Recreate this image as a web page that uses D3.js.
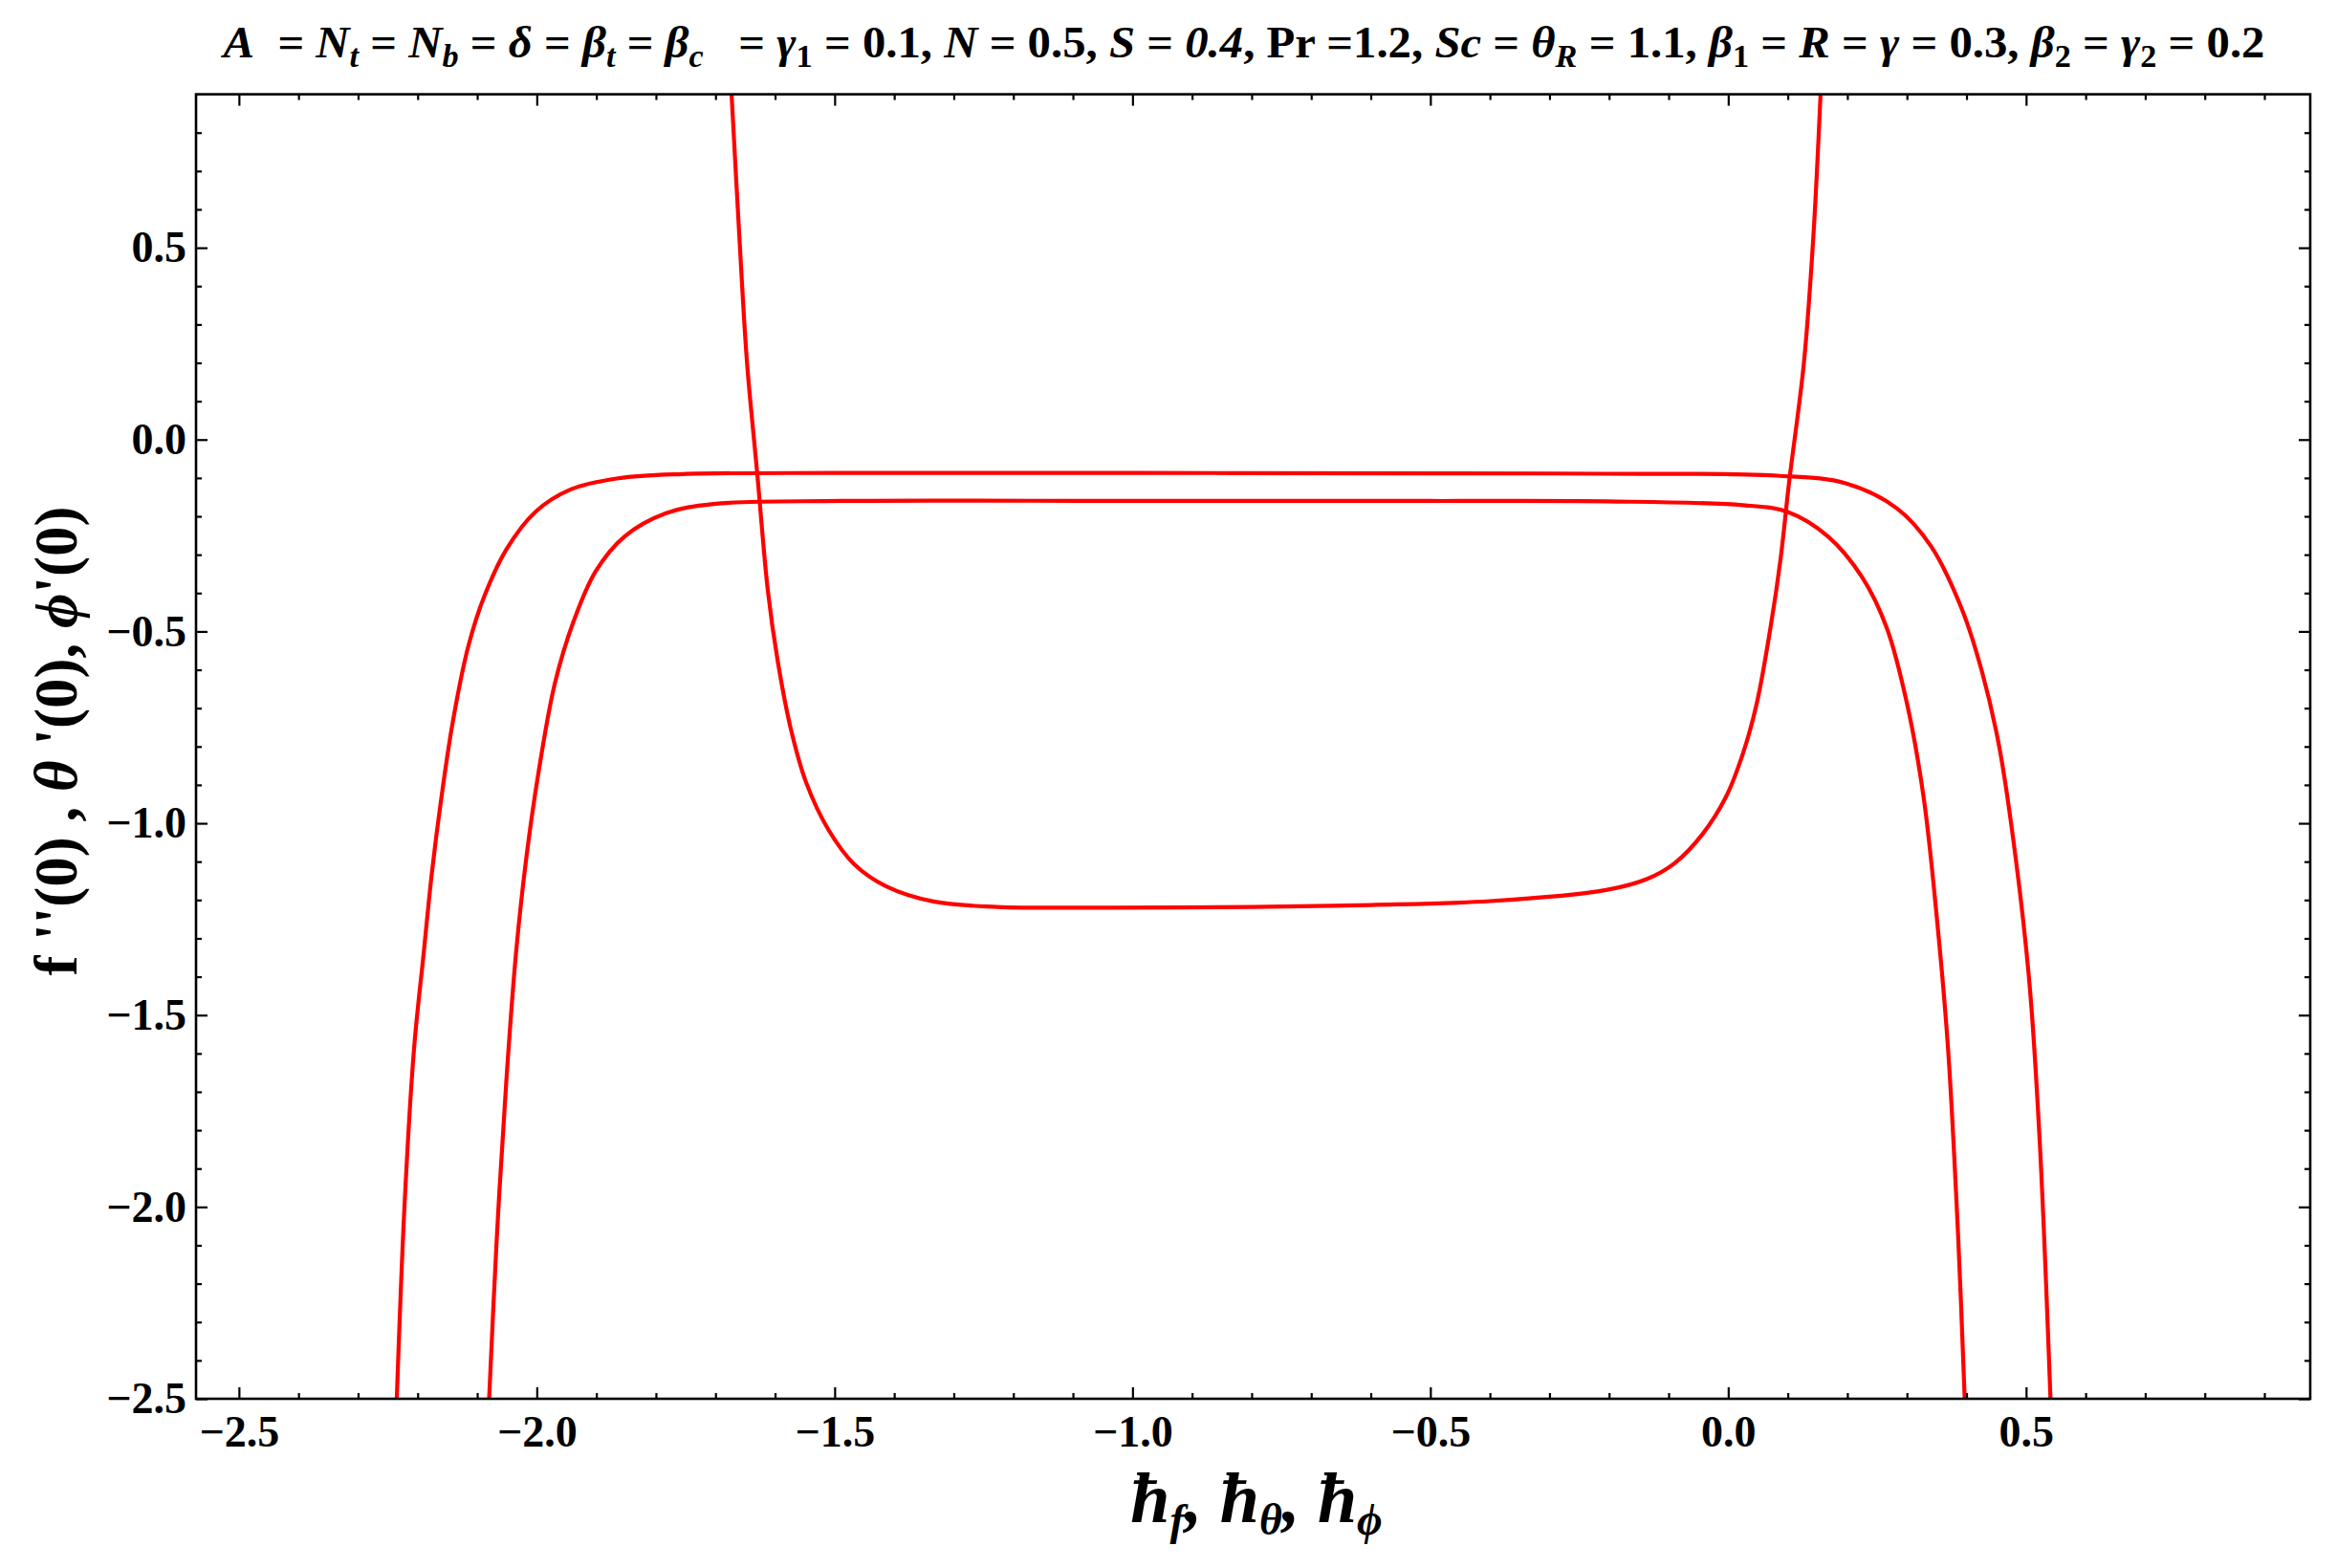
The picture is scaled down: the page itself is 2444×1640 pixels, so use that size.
<!DOCTYPE html>
<html>
<head>
<meta charset="utf-8">
<script src="https://cdn.jsdelivr.net/npm/d3@7"></script>
<style>
  body { margin: 0; background: #fff; }
  svg { display: block; }
  text { white-space: pre; }
</style>
</head>
<body>
<svg width="2444" height="1640"></svg>
<script>
// values (h on the x axis, profile value on the y axis)
var fppH = [-1.673, -1.660, -1.647, -1.630, -1.612, -1.596, -1.574, -1.548, -1.510, -1.467, -1.414, -1.334, -1.227, -1.039, -0.8, -0.6, -0.4, -0.205, -0.136, -0.090, -0.044, -0.004, 0.025, 0.048, 0.071, 0.088, 0.102, 0.127, 0.143, 0.155];
var fppV = [0.9, 0.531, 0.199, -0.087, -0.395, -0.573, -0.751, -0.893, -1.018, -1.107, -1.164, -1.204, -1.218, -1.220, -1.218, -1.213, -1.203, -1.174, -1.145, -1.104, -1.030, -0.932, -0.817, -0.687, -0.490, -0.310, -0.114, 0.199, 0.531, 0.9];

var thetaH = [-2.080, -2.067, -2.051, -2.035, -2.018, -1.997, -1.970, -1.938, -1.901, -1.853, -1.783, -1.703, -1.489, -1.0, -0.5, -0.205, 0.025, 0.099, 0.168, 0.225, 0.266, 0.300, 0.328, 0.351, 0.369, 0.386, 0.397];
var thetaV = [-2.5, -2.077, -1.669, -1.341, -1.096, -0.867, -0.638, -0.473, -0.343, -0.253, -0.192, -0.168, -0.160, -0.160, -0.160, -0.161, -0.171, -0.188, -0.253, -0.359, -0.490, -0.687, -0.932, -1.259, -1.587, -2.077, -2.5];

var phiH = [-2.235, -2.222, -2.206, -2.190, -2.176, -2.160, -2.141, -2.115, -2.088, -2.051, -2.002, -1.943, -1.863, -1.756, -1.489, -1.0, -0.5, -0.205, 0.082, 0.197, 0.283, 0.340, 0.392, 0.426, 0.455, 0.483, 0.506, 0.523, 0.541];
var phiV = [-2.5, -1.996, -1.587, -1.341, -1.128, -0.932, -0.736, -0.539, -0.408, -0.286, -0.188, -0.130, -0.101, -0.090, -0.087, -0.087, -0.088, -0.089, -0.094, -0.114, -0.179, -0.277, -0.441, -0.605, -0.801, -1.096, -1.423, -1.832, -2.5];

var xMajorTicks = [-2.5, -2.0, -1.5, -1.0, -0.5, 0.0, 0.5];
var yMajorTicks = [-2.5, -2.0, -1.5, -1.0, -0.5, 0.0, 0.5];

var titleParts = [
  ["A", "i"], ["  = ", "n"], ["N", "i"], ["t", "s"], [" = ", "n"], ["N", "i"], ["b", "s"], [" = ", "n"],
  ["δ", "i"], [" = ", "n"], ["β", "i"], ["t", "s"], [" = ", "n"], ["β", "i"], ["c", "s"], ["   = ", "n"],
  ["γ", "i"], ["1", "u"], [" = 0.1, ", "n"], ["N", "i"], [" = 0.5, ", "n"], ["S", "i"], [" = ", "n"],
  ["0.4", "i"], [", Pr =1.2, ", "n"], ["Sc", "i"], [" = ", "n"], ["θ", "i"], ["R", "s"], [" = 1.1, ", "n"],
  ["β", "i"], ["1", "u"], [" = ", "n"], ["R", "i"], [" = ", "n"], ["γ", "i"], [" = 0.3, ", "n"],
  ["β", "i"], ["2", "u"], [" = ", "n"], ["γ", "i"], ["2", "u"], [" = 0.2", "n"]
];
var yLabelParts = [["f ''(0) , ", "n"], ["θ", "i"], [" '(0), ", "n"], ["ϕ", "i"], ["'(0)", "n"]];
var xLabelParts = [["ħ", "i"], ["f", "s"], [", ", "i"], ["ħ", "i"], ["θ", "s"], [", ", "i"], ["ħ", "i"], ["ϕ", "s"]];

var serif = "'Liberation Serif', 'Times New Roman', 'DejaVu Serif', serif";

var svg = d3.select("svg");
svg.append("rect").attr("width", 2444).attr("height", 1640).attr("fill", "#fff");

var plotL = 205, plotR = 2416, plotT = 98.6, plotB = 1463;

var x = d3.scaleLinear().domain([-2.572, 0.977]).range([plotL, plotR]);
var y = d3.scaleLinear().domain([-2.5, 0.9]).range([plotB, plotT]);

var xMinor = d3.range(-26, 10).map(function(i) { return i / 10; })
  .filter(function(v) { return Math.round(Math.abs(v * 10)) % 5 !== 0 && v > x.domain()[0] && v < x.domain()[1]; });
var yMinor = d3.range(-25, 9).map(function(i) { return i / 10; })
  .filter(function(v) { return Math.round(Math.abs(v * 10)) % 5 !== 0; });

// clip for the curves
svg.append("clipPath").attr("id", "plotclip")
  .append("rect").attr("x", plotL).attr("y", plotT).attr("width", plotR - plotL).attr("height", plotB - plotT);

var line = d3.line()
  .x(function(d) { return x(d[0]); })
  .y(function(d) { return y(d[1]); })
  .curve(d3.curveCatmullRom.alpha(0.5));

var curves = [d3.zip(fppH, fppV), d3.zip(thetaH, thetaV), d3.zip(phiH, phiV)];

svg.append("g").attr("clip-path", "url(#plotclip)")
  .selectAll("path")
  .data(curves)
  .enter().append("path")
    .attr("d", line)
    .attr("fill", "none")
    .attr("stroke", "#ff0000")
    .attr("stroke-width", 4.2)
    .attr("stroke-linejoin", "round");

// axes, ticks point inwards on all four sides
function styleAxis(g) {
  g.select(".domain").remove();
  g.selectAll("line").attr("stroke", "#000").attr("stroke-width", 2.2);
  g.selectAll("text")
    .attr("font-family", serif)
    .attr("font-weight", "bold")
    .attr("font-size", 46)
    .attr("fill", "#000");
}

var fmt = d3.format(".1f");

svg.append("g").attr("transform", "translate(0," + plotB + ")")
  .call(d3.axisBottom(x).tickValues(xMajorTicks).tickSize(-12).tickSizeOuter(0).tickPadding(17).tickFormat(fmt))
  .call(styleAxis);
svg.append("g").attr("transform", "translate(0," + plotB + ")")
  .call(d3.axisBottom(x).tickValues(xMinor).tickSize(-6).tickSizeOuter(0).tickFormat(""))
  .call(styleAxis);
svg.append("g").attr("transform", "translate(0," + plotT + ")")
  .call(d3.axisTop(x).tickValues(xMajorTicks).tickSize(-12).tickSizeOuter(0).tickFormat(""))
  .call(styleAxis);
svg.append("g").attr("transform", "translate(0," + plotT + ")")
  .call(d3.axisTop(x).tickValues(xMinor).tickSize(-6).tickSizeOuter(0).tickFormat(""))
  .call(styleAxis);

svg.append("g").attr("transform", "translate(" + plotL + ",0)")
  .call(d3.axisLeft(y).tickValues(yMajorTicks).tickSize(-12).tickSizeOuter(0).tickPadding(10).tickFormat(fmt))
  .call(styleAxis);
svg.append("g").attr("transform", "translate(" + plotL + ",0)")
  .call(d3.axisLeft(y).tickValues(yMinor).tickSize(-6).tickSizeOuter(0).tickFormat(""))
  .call(styleAxis);
svg.append("g").attr("transform", "translate(" + plotR + ",0)")
  .call(d3.axisRight(y).tickValues(yMajorTicks).tickSize(-12).tickSizeOuter(0).tickFormat(""))
  .call(styleAxis);
svg.append("g").attr("transform", "translate(" + plotR + ",0)")
  .call(d3.axisRight(y).tickValues(yMinor).tickSize(-6).tickSizeOuter(0).tickFormat(""))
  .call(styleAxis);

svg.append("rect")
  .attr("x", plotL).attr("y", plotT).attr("width", plotR - plotL).attr("height", plotB - plotT)
  .attr("fill", "none").attr("stroke", "#000").attr("stroke-width", 2.6);

// rich text: n = normal, i = italic, s = italic subscript, u = upright subscript
function richText(sel, parts, size, subSize, subShift, allItalic) {
  var shift = 0;
  parts.forEach(function(p) {
    var isSub = p[1] === "s" || p[1] === "u";
    var t = sel.append("tspan").text(p[0]);
    var want = isSub ? subShift : 0;
    if (want !== shift) t.attr("dy", want - shift);
    shift = want;
    t.attr("font-size", isSub ? subSize : size);
    if (allItalic || p[1] === "i" || p[1] === "s") t.attr("font-style", "italic");
  });
}

var title = svg.append("text")
  .attr("x", 1301).attr("y", 60)
  .attr("text-anchor", "middle")
  .attr("font-family", serif)
  .attr("font-weight", "bold")
  .attr("fill", "#000");
richText(title, titleParts, 47, 33, 10, false);
title.attr("textLength", 2135).attr("lengthAdjust", "spacingAndGlyphs");

var yLabel = svg.append("text")
  .attr("transform", "translate(80,775) rotate(-90)")
  .attr("text-anchor", "middle")
  .attr("font-family", serif)
  .attr("font-weight", "bold")
  .attr("fill", "#000");
richText(yLabel, yLabelParts, 63, 44, 0, false);

var xLabel = svg.append("text")
  .attr("x", 1314).attr("y", 1592)
  .attr("text-anchor", "middle")
  .attr("font-family", serif)
  .attr("font-weight", "bold")
  .attr("fill", "#000");
richText(xLabel, xLabelParts, 74, 46, 13, true);
</script>
</body>
</html>
